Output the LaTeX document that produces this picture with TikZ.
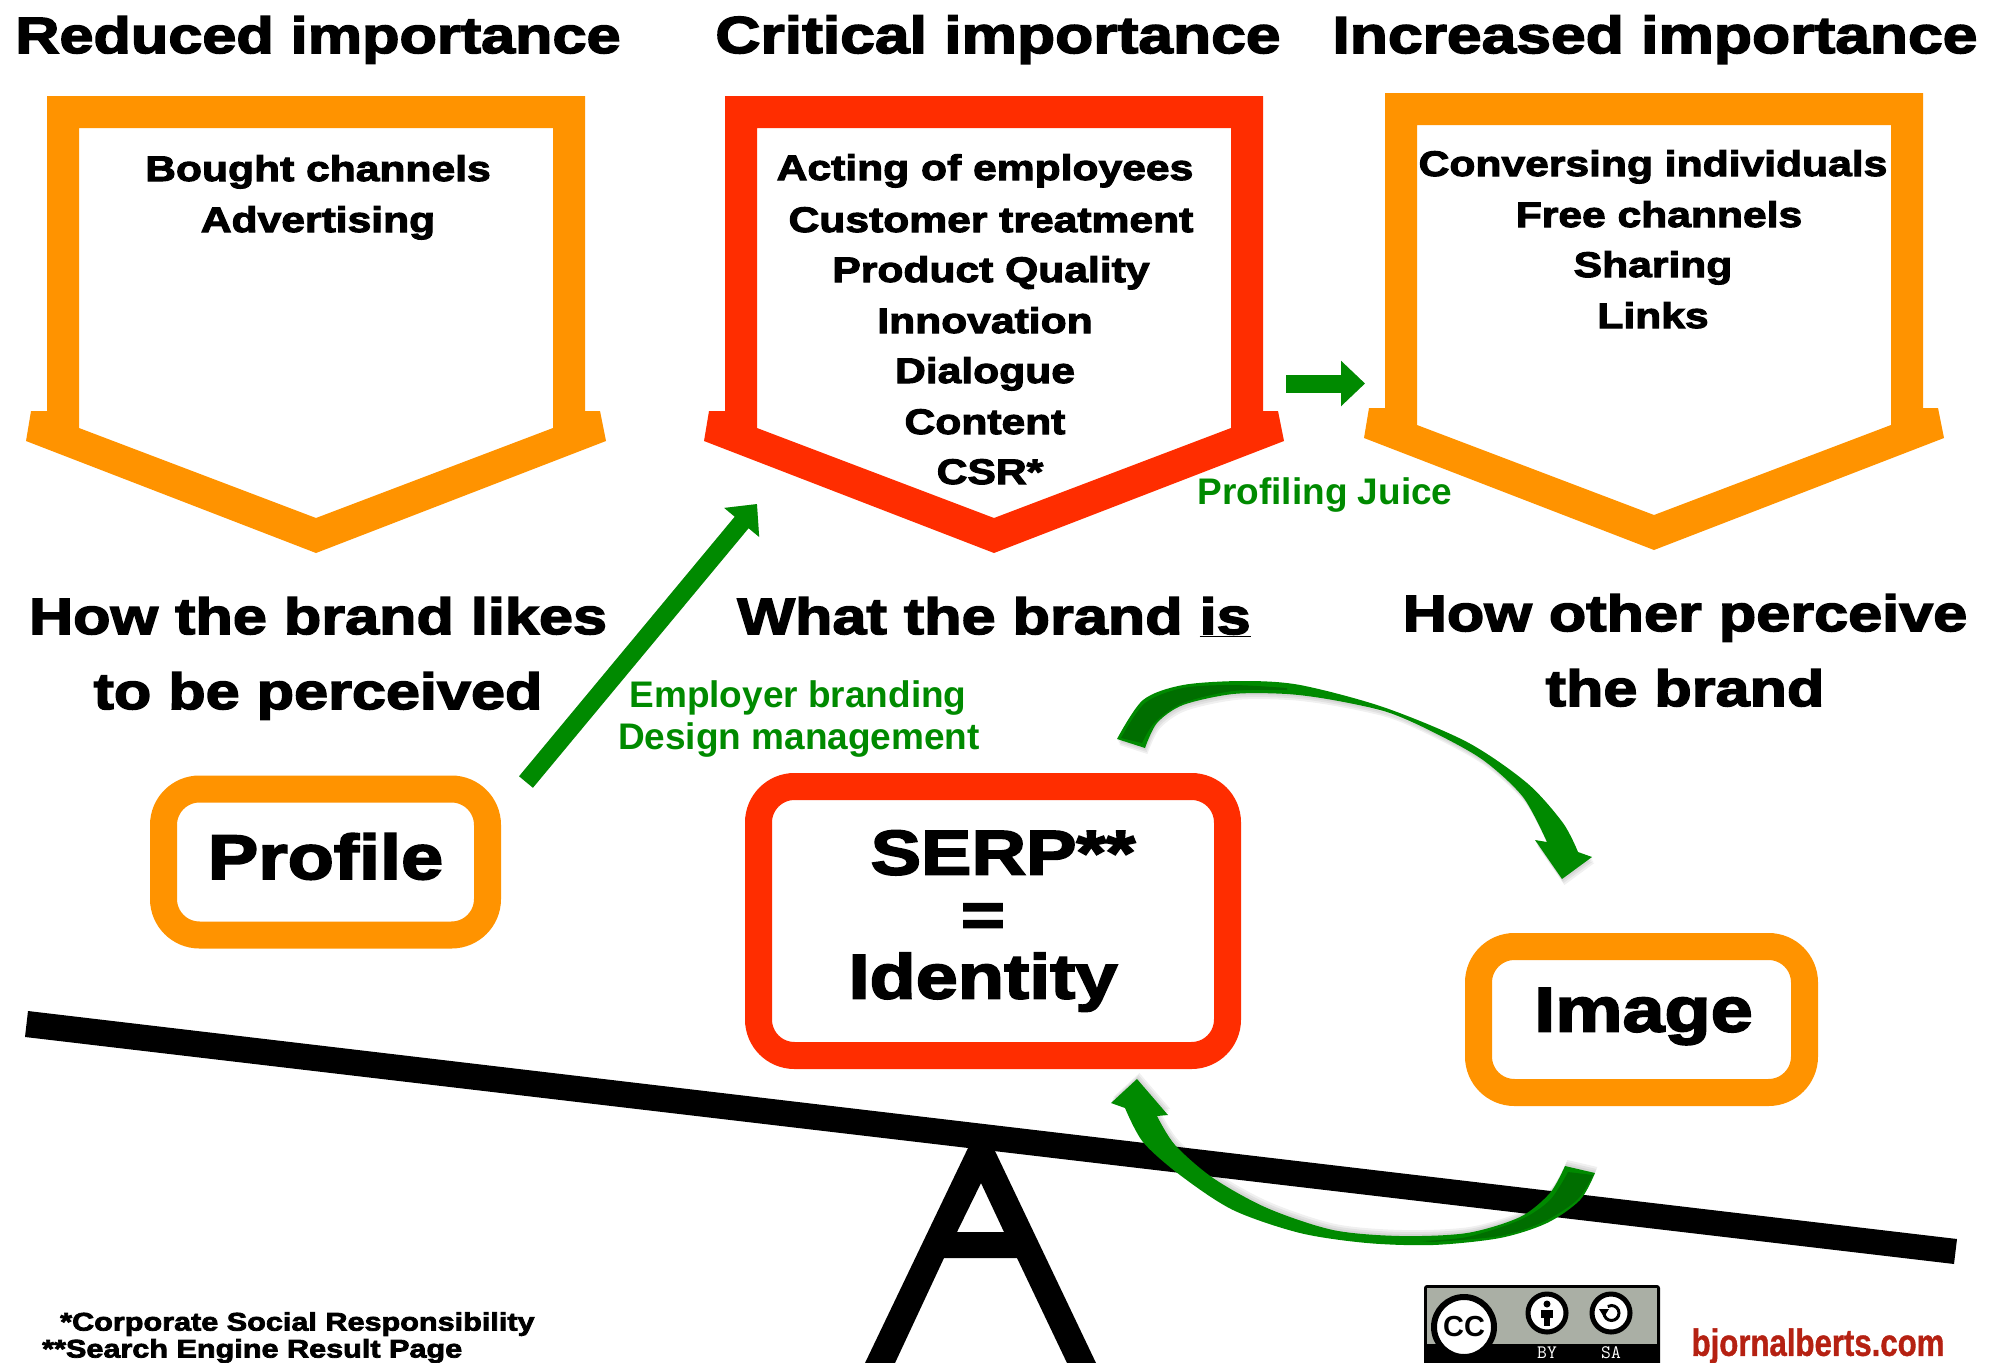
\documentclass[tikz,border=0pt]{standalone}
\usepackage{fontspec}
\setmainfont{Liberation Sans}
\newfontfamily\heavyfont[UprightFont=* Bold,FakeBold=3,FakeStretch=1.2]{Liberation Sans}
\newfontfamily\greenfont[UprightFont=* Bold]{Liberation Sans}
\newfontfamily\sitefont[UprightFont=* Bold,FakeBold=1,FakeStretch=0.82]{Liberation Sans}
\usetikzlibrary{arrows.meta}
\definecolor{boxorange}{RGB}{255,147,0}
\definecolor{boxred}{RGB}{255,45,0}
\definecolor{arrowgreen}{RGB}{0,138,0}
\definecolor{arrowdark}{RGB}{0,110,0}
\definecolor{sitered}{RGB}{181,33,18}
\definecolor{badgegrey}{RGB}{170,175,165}
\tikzset{
  headline/.style={font=\heavyfont\fontsize{51}{51}\selectfont,inner sep=0pt,text height=38pt,text depth=12pt},
  headwide/.style={headline,font=\heavyfont\fontsize{52}{52}\selectfont},
  listline/.style={font=\heavyfont\fontsize{35.5}{35.5}\selectfont,inner sep=0pt,text height=26pt,text depth=8pt},
  noteline/.style={font=\heavyfont\fontsize{25.5}{25.5}\selectfont,inner sep=0pt,anchor=west},
  juiceline/.style={font=\greenfont\fontsize{37}{37}\selectfont,text=arrowgreen,inner sep=0pt,text height=28pt,text depth=8pt},
  statebox/.style={draw=#1,line width=27pt,rounded corners=36pt,fill=white,inner sep=0pt,align=center,font=\heavyfont\fontsize{63}{62}\selectfont},
  oneline/.style={text height=47pt,text depth=13pt},
  blockarrow/.style={draw=arrowgreen,line width=18pt,-{Triangle[length=24pt,width=44pt]}},
  blockshade/.style={draw=black,opacity=.06,line width=18pt,-{Triangle[length=24pt,width=44pt]}},
}
\newcommand{\toparc}{plot[smooth] coordinates {(1117,739) (1143,700) (1183,685) (1243,681) (1300,685) (1383,707) (1467,742) (1527,783) (1563,823) (1578,852)}
    -- (1592,857) -- (1562,879) -- (1535,840) -- plot[smooth] coordinates {(1547,842) (1523,797) (1483,760) (1433,732) (1387,712) (1333,700) (1287,694) (1233,694) (1183,705) (1157,723) (1145,748)} -- cycle}
\newcommand{\lowarc}{(1137,1079) -- (1168,1115) -- plot[smooth] coordinates {(1157,1116) (1175,1145) (1213,1178) (1267,1208) (1333,1230) (1400,1236) (1467,1233) (1520,1217) (1550,1193) (1565,1166)}
    -- plot[smooth] coordinates {(1595,1173) (1580,1200) (1547,1223) (1500,1238) (1433,1245) (1367,1243) (1300,1233) (1233,1210) (1180,1175) (1143,1142) (1125,1108)} -- (1111,1103) -- cycle}
\begin{document}
\begin{tikzpicture}[x=1pt,y=-1pt]
  \useasboundingbox (0,0) rectangle (1990,1363);
  \clip (0,0) rectangle (1990,1363);
  % pentagons
  \foreach \dx/\dy/\col in {-678/0/boxorange, 0/0/boxred, 660/-3/boxorange}
    \fill[\col,even odd rule,shift={(\dx,\dy)}]
      (725,96) -- (1263,96) -- (1263,411) -- (1278,411) -- (1284,441) -- (994,553) -- (704,441) -- (709,411) -- (725,411) -- cycle
      (757,128) -- (1231,128) -- (1231,428) -- (994,518) -- (757,428) -- cycle;
  % headlines
  \node[headline] (reducedhead) at (318,40) {Reduced importance};
  \node[headwide] (criticalhead) at (998,40) {Critical importance};
  \node[headwide] (increasedhead) at (1655,40) {Increased importance};
  % lists
  \node[listline] (bought) at (318,172) {Bought channels};
  \node[listline] (advert) at (318,223) {Advertising};
  \foreach \n/\x/\y/\t in {1/985/171/Acting of employees, 2/991/223/Customer treatment, 3/991/273/Product Quality, 4/985/324/Innovation, 5/985/374/Dialogue, 6/985/425/Content, 7/990/475/CSR*}
    \node[listline] (crit\n) at (\x,\y) {\t};
  \foreach \n/\x/\y/\t in {1/1653/167/Conversing individuals, 2/1659/218/Free channels, 3/1653/268/Sharing, 4/1653/319/Links}
    \node[listline] (incr\n) at (\x,\y) {\t};
  % perception lines
  \node[headline] (likes1) at (318,621) {How the brand likes};
  \node[headline] (likes2) at (318,696) {to be perceived};
  \node[headline] (whatis) at (994,621) {What the brand \underline{is}};
  \node[headline] (other1) at (1685,618) {How other perceive};
  \node[headline] (other2) at (1685,693) {the brand};
  % green labels
  \node[juiceline] (juice) at (1325,494) {Profiling Juice};
  \node[juiceline] (employer) at (798,697) {Employer branding};
  \node[juiceline] (design) at (799,739) {Design management};
  % seesaw
  \fill[even odd rule] (865,1363) -- (968,1148) -- (981,1128) -- (995,1151) -- (1096,1363) -- (1067,1363) -- (1017,1258) -- (944,1258) -- (895,1363) -- cycle
    (981,1183) -- (1004,1232) -- (957,1232) -- cycle;
  \fill (28,1011) -- (1957,1239) -- (1954,1264) -- (25,1037) -- cycle;
  % boxes
  \node[statebox=boxorange,oneline,minimum width=324pt,minimum height=146pt] (profile) at (325.5,862) {Profile};
  \node[statebox=boxred,minimum width=469pt,minimum height=269pt] (serp) at (993,921) {\hspace*{20pt}SERP**\\\hspace*{-20pt}=\\\hspace*{-20pt}Identity};
  \node[statebox=boxorange,oneline,text depth=23pt,minimum width=326pt,minimum height=146pt] (image) at (1641.5,1019.5) {\hspace*{4pt}Image};
  % arrows
  \coordinate (riselow) at (526,782);
  \coordinate (risehigh) at (757,504);
  \coordinate (juiceleft) at (1286,383.5);
  \coordinate (juiceright) at (1365,383.5);
  \foreach \s in {2,4,6} {
    \draw[blockshade,shift={(\s*.4,\s)}] (riselow) -- (risehigh);
    \draw[blockshade,shift={(\s*.4,\s)}] (juiceleft) -- (juiceright);
    \fill[black,opacity=.06,shift={(\s*.4,\s)}] \toparc;
    \fill[black,opacity=.06,shift={(\s*.4,-\s)}] \lowarc;
  }
  \draw[blockarrow] (riselow) -- (risehigh);
  \draw[blockarrow] (juiceleft) -- (juiceright);
  % curved arrows
  \fill[arrowgreen] \toparc;
  \fill[arrowdark] plot[smooth] coordinates {(1121,738) (1145,703) (1183,688) (1233,685) (1287,688)}
    -- plot[smooth] coordinates {(1287,690) (1233,691) (1183,703) (1155,722) (1142,743)} -- cycle;
  \fill[arrowgreen] \lowarc;
  \fill[arrowdark] plot[smooth] coordinates {(1568,1172) (1550,1200) (1520,1220) (1467,1237) (1420,1241)}
    -- plot[smooth] coordinates {(1433,1242) (1500,1236) (1543,1222) (1577,1200) (1593,1175)} -- cycle;
  % footnotes
  \node[noteline] (csrnote) at (60,1324) {*Corporate Social Responsibility};
  \node[noteline] (serpnote) at (42,1351) {**Search Engine Result Page};
  % badge
  \fill[black,rounded corners=3pt] (1424,1285) rectangle (1660,1380);
  \fill[badgegrey] (1427,1288) rectangle (1657,1344);
  \fill[white,draw=black,line width=6pt] (1464,1327) circle (30);
  \node[font=\greenfont\fontsize{29}{29}\selectfont,inner sep=0pt] (cclogo) at (1464,1327) {CC};
  \foreach \x in {1547,1611} \fill[white,draw=black,line width=5pt] (\x,1313) circle (19);
  \fill (1547,1304) circle (3.5);
  \fill (1541,1310) rectangle (1553,1318);
  \fill (1544,1318) rectangle (1550,1326);
  \draw[line width=3pt] (1604,1313) arc (180:-120:7.5);
  \fill (1599,1309) -- (1609,1309) -- (1604,1317) -- cycle;
  \node[font=\ttfamily\fontsize{19}{19}\selectfont,text=white,inner sep=0pt] (bytext) at (1547,1353) {BY};
  \node[font=\ttfamily\fontsize{19}{19}\selectfont,text=white,inner sep=0pt] (satext) at (1611,1353) {SA};
  \node[font=\sitefont\fontsize{38}{38}\selectfont,text=sitered,inner sep=0pt] (site) at (1818,1346) {bjornalberts.com};
\end{tikzpicture}
\end{document}
